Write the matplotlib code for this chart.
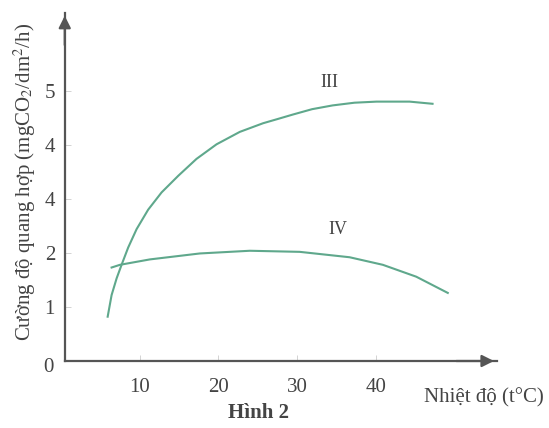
import matplotlib
matplotlib.use('Agg')
import matplotlib.pyplot as plt

plt.rcParams['font.family'] = ['Liberation Serif', 'DejaVu Serif']
plt.rcParams['mathtext.fontset'] = 'stix'

# curve III
temp_3 = [5.9, 6.4, 7.04, 7.67, 8.51, 9.58, 11.05, 12.76, 14.9, 17.2, 19.75,
          22.71, 25.67, 27.57, 29.44, 31.9, 34.52, 37.3, 40.11, 44.31, 47.23]
rate_3 = [0.82, 1.22, 1.53, 1.78, 2.10, 2.44, 2.80, 3.12, 3.43, 3.74, 4.01,
          4.24, 4.40, 4.48, 4.56, 4.66, 4.73, 4.78, 4.80, 4.80, 4.76]
# curve IV
temp_4 = [6.4, 7.46, 11.27, 17.62, 23.98, 30.33, 36.68, 40.91, 45.16, 49.17]
rate_4 = [1.73, 1.78, 1.88, 1.99, 2.04, 2.02, 1.92, 1.78, 1.56, 1.26]

x_ticks = [10, 20, 30, 40]
y_ticks = [1, 2, 3, 4, 5]
y_tick_labels = ['1', '2', '4', '4', '5']  # as printed in the figure

green = '#5fa88c'
axis_col = '#555555'
text_col = '#444444'

fig = plt.figure(figsize=(5.49, 4.28), dpi=100)
ax = fig.add_axes([64.75/549, 67/428, 432/549, 348/428])

ax.plot(temp_3, rate_3, color=green, lw=1.5)
ax.plot(temp_4, rate_4, color=green, lw=1.5)
ax.text(34.1, 5.15, 'III', ha='center', va='center', fontsize=13, color=text_col)
ax.text(35.2, 2.43, 'IV', ha='center', va='center', fontsize=13, color=text_col)

ax.set_xlim(0.44, 55.4)
ax.set_ylim(0, 6.44)
for s in ['top', 'right']:
    ax.spines[s].set_visible(False)
for s in ['left', 'bottom']:
    ax.spines[s].set_color(axis_col)
    ax.spines[s].set_linewidth(1.6)

ax.annotate('', xy=(1.0, 0), xytext=(0.9, 0), xycoords='axes fraction',
            arrowprops=dict(arrowstyle='-|>', color=axis_col, lw=1.6,
                            mutation_scale=18))
ax.annotate('', xy=(0, 1.0), xytext=(0, 0.9), xycoords='axes fraction',
            arrowprops=dict(arrowstyle='-|>', color=axis_col, lw=1.6,
                            mutation_scale=18))

ax.set_xticks(x_ticks)
ax.set_yticks(y_ticks)
ax.set_yticklabels(y_tick_labels)
ax.tick_params(direction='in', length=4, width=0.6, color='#cccccc',
               labelsize=15, labelcolor=text_col)
ax.tick_params(axis='y', pad=7)
ax.tick_params(axis='x', pad=12)
fig.text(48/549, 1 - 367/428, '0', ha='center', va='center', fontsize=15, color=text_col)

fig.text(25/549, 1 - 182/428, 'Cường độ quang hợp (mgCO$_2$/dm$^2$/h)',
         rotation=90, ha='center', va='center', fontsize=15, color=text_col)
fig.text(484/549, 1 - 398/428, 'Nhiệt độ (t°C)', ha='center', va='center',
         fontsize=15, color=text_col)
fig.text(259/549, 1 - 413/428, 'Hình 2', ha='center', va='center',
         fontsize=15, fontweight='bold', color=text_col)

fig.savefig('out.png', dpi=100)
